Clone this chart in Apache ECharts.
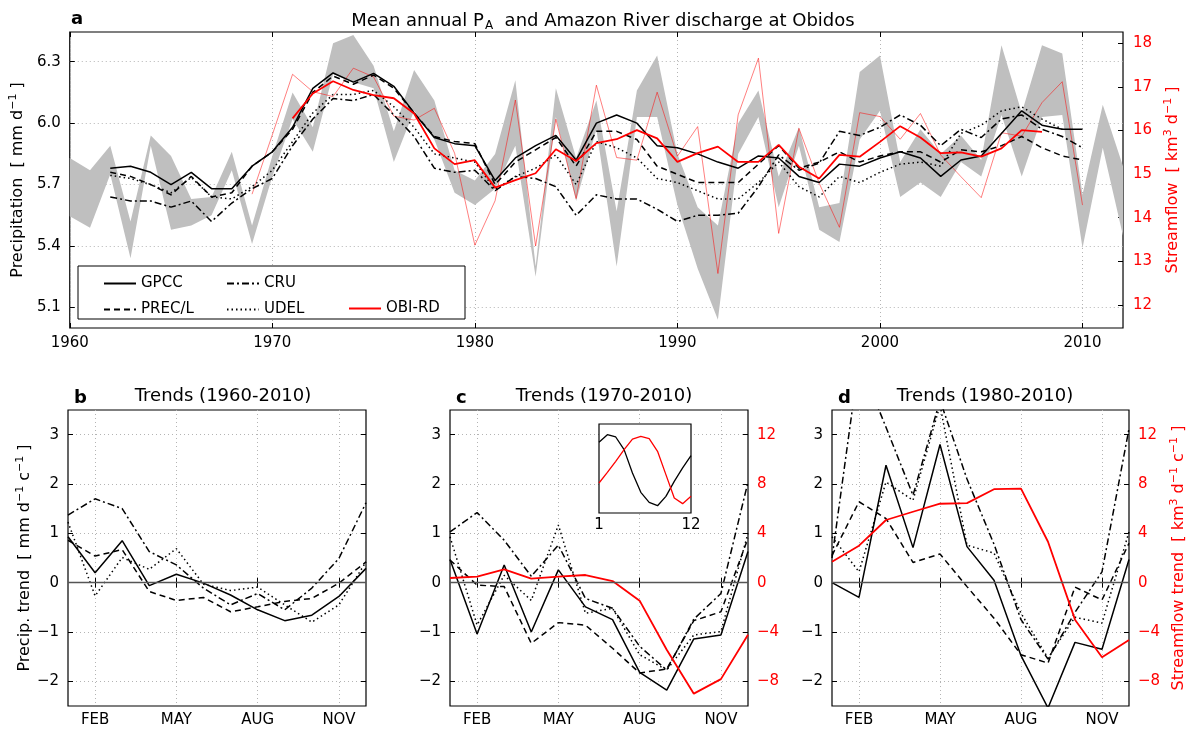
<!DOCTYPE html>
<html>
<head>
<meta charset="utf-8">
<script src="https://cdn.jsdelivr.net/npm/echarts@6/dist/echarts.min.js"></script>
<style>
  html, body { margin: 0; padding: 0; background: #fff; }
  #chart { width: 1189px; height: 729px; }
</style>
</head>
<body>
<div id="chart"></div>
<script>
  // ---- panel a: annual values 1960-2012 (null = no data) ----
  const years = Array.from({length: 53}, (_, i) => 1960 + i)
  const yearTicks = [1960, 1970, 1980, 1990, 2000, 2010]
  const precipTicks = [5.1, 5.4, 5.7, 6.0, 6.3]
  const flowTicks = [12, 13, 14, 15, 16, 17, 18]

  const gpcc = [null, null, 5.78, 5.79, 5.76, 5.70, 5.76, 5.68, 5.68, 5.79, 5.86, 5.98, 6.17, 6.245, 6.20, 6.243, 6.18, 6.05, 5.93, 5.90,
    5.89, 5.72, 5.83, 5.89, 5.94, 5.82, 6.00, 6.04, 6.00, 5.89, 5.88, 5.85, 5.81, 5.78, 5.84, 5.83, 5.74, 5.71, 5.80, 5.79,
    5.83, 5.86, 5.83, 5.74, 5.82, 5.84, 5.95, 6.06, 5.99, 5.97, 5.97, null, null]
  const precl = [null, null, 5.76, 5.74, 5.70, 5.65, 5.74, 5.64, 5.66, 5.79, 5.86, 5.97, 6.15, 6.23, 6.19, 6.235, 6.17, 6.05, 5.935, 5.91,
    5.90, 5.70, 5.81, 5.87, 5.93, 5.79, 5.96, 5.96, 5.92, 5.79, 5.75, 5.71, 5.71, 5.71, 5.80, 5.89, 5.78, 5.81, 5.86, 5.81,
    5.84, 5.86, 5.86, 5.81, 5.87, 5.86, 5.89, 5.935, 5.88, 5.84, 5.82, null, null]
  const cru = [null, null, 5.64, 5.62, 5.62, 5.59, 5.62, 5.52, 5.61, 5.68, 5.73, 5.89, 6.02, 6.12, 6.11, 6.14, 6.04, 5.935, 5.78, 5.76,
    5.77, 5.67, 5.74, 5.73, 5.69, 5.55, 5.65, 5.63, 5.63, 5.58, 5.52, 5.55, 5.55, 5.56, 5.69, 5.845, 5.77, 5.805, 5.96, 5.94,
    5.98, 6.04, 5.99, 5.89, 5.97, 5.93, 6.02, 6.04, 5.97, 5.935, 5.88, null, null]
  const udel = [null, null, 5.745, 5.73, 5.70, 5.66, 5.735, 5.64, 5.63, 5.69, 5.77, 5.91, 6.05, 6.14, 6.14, 6.16, 6.08, 5.98, 5.85, 5.83,
    5.81, 5.675, 5.74, 5.78, 5.845, 5.70, 5.91, 5.88, 5.83, 5.73, 5.71, 5.67, 5.63, 5.63, 5.71, 5.81, 5.69, 5.64, 5.74, 5.71,
    5.76, 5.80, 5.81, 5.79, 5.95, 5.99, 6.06, 6.08, 6.02, 5.97, null, null, null]
  // min / max of the annual precipitation products (grey band)
  const bandLow = [5.545, 5.49, 5.75, 5.34, 5.89, 5.48, 5.50, 5.55, 5.77, 5.41, 5.74, 6.02, 5.86, 6.24, 6.20, 6.17, 5.81, 6.06, 5.92, 5.66,
    5.60, 5.68, 5.89, 5.25, 6.03, 5.62, 5.97, 5.30, 6.03, 6.03, 5.60, 5.29, 5.04, 5.85, 6.03, 5.59, 5.89, 5.48, 5.42, 5.92,
    6.06, 5.64, 5.71, 5.64, 5.81, 5.74, 6.04, 5.74, 6.03, 6.04, 5.39, 5.88, 5.45]
  const bandHigh = [5.83, 5.77, 5.89, 5.52, 5.94, 5.84, 5.63, 5.64, 5.86, 5.50, 5.84, 6.15, 5.98, 6.39, 6.43, 6.28, 5.96, 6.26, 6.11, 5.77,
    5.72, 5.85, 6.21, 5.30, 6.17, 5.83, 6.11, 5.57, 6.16, 6.33, 5.85, 5.59, 5.50, 6.00, 6.16, 5.74, 5.98, 5.59, 5.61, 6.25,
    6.33, 5.81, 5.97, 5.85, 5.94, 5.82, 6.38, 6.05, 6.38, 6.34, 5.65, 6.09, 5.79]
  // streamflow at Obidos, km3/d
  const obiSmooth = [null, null, null, null, null, null, null, null, null, null, null, 16.28, 16.85, 17.13, 16.93, 16.81, 16.74, 16.39, 15.59, 15.23,
    15.32, 14.69, 14.86, 15.02, 15.57, 15.30, 15.71, 15.80, 16.01, 15.82, 15.28, 15.48, 15.63, 15.28, 15.28, 15.67, 15.17, 14.90, 15.44, 15.40,
    15.74, 16.10, 15.84, 15.48, 15.50, 15.40, 15.59, 16.01, 15.97, null, null, null, null]
  const obiAnnual = [null, null, null, null, null, null, null, null, null, 14.54, 15.90, 17.29, 16.89, 16.78, 17.43, 17.23, 16.33, 16.24, 16.51, 15.48,
    13.37, 14.39, 16.70, 13.35, 16.26, 14.44, 17.04, 15.38, 15.32, 16.88, 15.41, 16.09, 12.72, 16.36, 17.66, 13.64, 16.05, 14.79, 13.78, 16.41,
    16.32, 15.80, 16.39, 15.44, 14.94, 14.46, 15.95, 15.87, 16.64, 17.12, 14.29, null, null]

  // ---- panels b, c, d: monthly trends ----
  const months = ['JAN', 'FEB', 'MAR', 'APR', 'MAY', 'JUN', 'JUL', 'AUG', 'SEP', 'OCT', 'NOV', 'DEC']
  const trendTicks = [-2, -1, 0, 1, 2, 3]
  const flowTrendTicks = [-8, -4, 0, 4, 8, 12]

  const bGpcc = [0.93, 0.20, 0.85, -0.06, 0.17, -0.01, -0.25, -0.55, -0.77, -0.66, -0.28, 0.29]
  const bPrecl = [0.86, 0.54, 0.67, -0.18, -0.36, -0.30, -0.59, -0.49, -0.38, -0.32, -0.01, 0.42]
  const bCru = [1.37, 1.70, 1.50, 0.63, 0.36, -0.11, -0.45, -0.22, -0.55, -0.11, 0.49, 1.62]
  const bUdel = [1.23, -0.27, 0.51, 0.27, 0.69, -0.03, -0.16, -0.09, -0.45, -0.80, -0.45, 0.42]

  const cGpcc = [0.47, -1.04, 0.36, -1.00, 0.26, -0.49, -0.75, -1.82, -2.18, -1.14, -1.06, 0.63]
  const cPrecl = [0.46, -0.05, -0.08, -1.23, -0.81, -0.86, -1.33, -1.83, -1.75, -0.77, -0.59, 0.90]
  const cCru = [1.03, 1.42, 0.86, 0.13, 0.76, -0.32, -0.52, -1.29, -1.77, -0.74, -0.22, 2.04]
  const cUdel = [0.93, -0.86, 0.15, -0.36, 1.17, -0.62, -0.52, -1.46, -1.77, -1.06, -0.99, 1.00]
  const cObi = [0.38, 0.49, 1.08, 0.32, 0.49, 0.62, 0.13, -1.46, -5.44, -9.00, -7.82, -4.23]

  const dGpcc = [0.00, -0.30, 2.38, 0.71, 2.80, 0.73, 0.05, -1.48, -2.54, -1.21, -1.35, 0.47]
  const dPrecl = [0.55, 1.64, 1.30, 0.41, 0.58, -0.08, -0.72, -1.46, -1.63, -0.09, -0.35, 0.80]
  const dCru = [0.50, 4.50, 3.15, 1.77, 3.70, 2.10, 0.78, -0.75, -1.55, -0.60, 0.22, 3.12]
  const dUdel = [0.93, 0.22, 2.04, 1.67, 3.60, 0.76, 0.60, -0.62, -1.53, -0.70, -0.82, 1.03]
  const dObi = [1.70, 3.00, 5.08, 5.75, 6.40, 6.45, 7.58, 7.63, 3.32, -3.00, -6.04, -4.64]

  // inset: seasonal cycles (arbitrary units)
  const insetMonths = [1, 2, 3, 4, 5, 6, 7, 8, 9, 10, 11, 12]
  const insetPrecip = [7.94, 8.80, 8.54, 7.12, 4.49, 2.32, 1.20, 0.82, 1.87, 3.56, 5.06, 6.44]
  const insetFlow = [3.37, 4.57, 5.81, 7.12, 8.31, 8.61, 8.35, 6.93, 4.31, 1.69, 1.05, 1.87]

  const FONT = 'DejaVu Sans'
  const RED = '#ff0000'
  const minus = v => String(v).replace('-', '\u2212')

  const tick = {show: true, inside: true, length: 5, lineStyle: {color: '#000', width: 1}}
  const dots = {show: true, lineStyle: {color: '#b4b4b4', width: 1, type: [1, 3]}}
  const lbl = {color: '#000', fontSize: 15, fontFamily: FONT}

  const SOLID = {color: '#000', width: 1.5, type: 'solid'}
  const DASH = {color: '#000', width: 1.5, type: [6, 4]}
  const DASHDOT = {color: '#000', width: 1.5, type: [7, 3, 2, 3]}
  const DOT = {color: '#000', width: 1.5, type: [1.5, 3]}
  const THICKRED = {color: RED, width: 1.8, type: 'solid'}

  // axis names with real superscripts
  function nameStyle(color) {
    return {
      color: color, fontSize: 16, fontFamily: FONT,
      rich: {
        n: {color: color, fontSize: 16, fontFamily: FONT, lineHeight: 20},
        s: {color: color, fontSize: 11, fontFamily: FONT, lineHeight: 11, verticalAlign: 'top'}
      }
    }
  }

  const yearly = arr => years.map((y, i) => [y, arr[i]])

  function line(name, data, xi, yi, style, extra) {
    return Object.assign({
      name: name, type: 'line', xAxisIndex: xi, yAxisIndex: yi, data: data,
      symbol: 'none', showSymbol: false, lineStyle: style,
      itemStyle: {color: style.color, opacity: 0}, z: 3
    }, extra || {})
  }

  const zeroLine = {
    silent: true, symbol: 'none', label: {show: false}, animation: false,
    lineStyle: {color: '#555', width: 1.3, type: 'solid'}, data: [{yAxis: 0}]
  }

  function monthAxis(gi, pos) {
    const bottom = pos === 'bottom'
    const every3 = i => i % 3 === 1
    return {
      type: 'category', gridIndex: gi, position: pos, data: months, boundaryGap: false,
      axisLine: {show: false},
      axisTick: Object.assign({}, tick, {interval: every3}),
      axisLabel: Object.assign({}, lbl, {show: bottom, interval: every3, margin: 7}),
      splitLine: bottom ? Object.assign({}, dots, {interval: every3}) : {show: false}
    }
  }

  function trendAxis(gi, pos, showLabel) {
    return {
      type: 'value', gridIndex: gi, position: pos, min: -2.5, max: 3.5,
      axisLine: {show: false},
      axisTick: Object.assign({}, tick, {customValues: trendTicks}),
      axisLabel: Object.assign({}, lbl, {show: showLabel, customValues: trendTicks, formatter: minus, margin: 9}),
      splitLine: pos === 'left' ? dots : {show: false}
    }
  }

  function flowTrendAxis(gi, withName) {
    const ax = {
      type: 'value', gridIndex: gi, position: 'right', min: -10, max: 14,
      axisLine: {show: false},
      axisTick: Object.assign({}, tick, {customValues: flowTrendTicks}),
      axisLabel: Object.assign({}, lbl, {color: RED, customValues: flowTrendTicks, formatter: minus, margin: 9}),
      splitLine: {show: false}
    }
    if (withName) {
      Object.assign(ax, {
        name: '{n|Streamflow trend  [ km}{s|3}{n| d}{s|\u22121}{n| c}{s|\u22121}{n| ]}',
        nameLocation: 'middle', nameRotate: 90, nameGap: 40, nameTextStyle: nameStyle(RED)
      })
    }
    return ax
  }

  const legendText = Object.assign({}, lbl)

  const chart = echarts.init(document.getElementById('chart'))

  const option = {
    animation: false,
    backgroundColor: '#fff',
    textStyle: {fontFamily: FONT},
    title: [
      {text: 'a', left: 66, top: 5, textStyle: {fontSize: 18, fontWeight: 'bold', color: '#000', fontFamily: FONT}},
      {
        text: '{t|Mean annual P}{s|A}{t|  and Amazon River discharge at Obidos}', left: 598, top: 5, textAlign: 'center',
        textStyle: {
          fontWeight: 'normal',
          rich: {
            t: {fontSize: 18, fontWeight: 'normal', color: '#000', fontFamily: FONT, lineHeight: 22},
            s: {fontSize: 12, fontWeight: 'normal', color: '#000', fontFamily: FONT, lineHeight: 12, verticalAlign: 'bottom', padding: [0, 0, 0, 1]}
          }
        }
      },
      {text: 'b', left: 69, top: 384, textStyle: {fontSize: 18, fontWeight: 'bold', color: '#000', fontFamily: FONT}},
      {text: 'Trends (1960-2010)', left: 218, top: 382, textAlign: 'center', textStyle: {fontSize: 18, fontWeight: 'normal', color: '#000', fontFamily: FONT}},
      {text: 'c', left: 451, top: 384, textStyle: {fontSize: 18, fontWeight: 'bold', color: '#000', fontFamily: FONT}},
      {text: 'Trends (1970-2010)', left: 599, top: 382, textAlign: 'center', textStyle: {fontSize: 18, fontWeight: 'normal', color: '#000', fontFamily: FONT}},
      {text: 'd', left: 833, top: 384, textStyle: {fontSize: 18, fontWeight: 'bold', color: '#000', fontFamily: FONT}},
      {text: 'Trends (1980-2010)', left: 980, top: 382, textAlign: 'center', textStyle: {fontSize: 18, fontWeight: 'normal', color: '#000', fontFamily: FONT}}
    ],
    legend: [
      {data: ['GPCC', 'PREC/L'], orient: 'vertical', left: 98, top: 271, itemWidth: 32, itemHeight: 14, itemGap: 11,
        selectedMode: false, z: 12, itemStyle: {opacity: 0}, textStyle: legendText},
      {data: ['CRU', 'UDEL'], orient: 'vertical', left: 221, top: 271, itemWidth: 32, itemHeight: 14, itemGap: 11,
        selectedMode: false, z: 12, itemStyle: {opacity: 0}, textStyle: legendText},
      {data: ['OBI-RD'], orient: 'vertical', left: 343, top: 296, itemWidth: 32, itemHeight: 14,
        selectedMode: false, z: 12, itemStyle: {opacity: 0}, textStyle: legendText}
    ],
    graphic: [
      {type: 'rect', shape: {x: 78, y: 266, width: 387, height: 53}, style: {fill: '#fff', stroke: '#000', lineWidth: 1}, z: 10},
      {type: 'rect', shape: {x: 599, y: 424, width: 92, height: 89}, style: {fill: '#fff', stroke: '#000', lineWidth: 1.2}, z: 1}
    ],
    grid: [
      {left: 68, top: 32, width: 1060, height: 296, show: true, borderColor: '#000', borderWidth: 1.2},
      {left: 68, top: 410, width: 298, height: 296, show: true, borderColor: '#000', borderWidth: 1.2},
      {left: 450, top: 410, width: 298, height: 296, show: true, borderColor: '#000', borderWidth: 1.2},
      {left: 832, top: 410, width: 297, height: 296, show: true, borderColor: '#000', borderWidth: 1.2},
      {left: 599, top: 424, width: 92, height: 89, show: false}
    ],
    xAxis: [
      {
        type: 'value', gridIndex: 0, min: 1960, max: 2012, axisLine: {show: false},
        axisTick: Object.assign({}, tick, {customValues: yearTicks}),
        axisLabel: Object.assign({}, lbl, {customValues: yearTicks, formatter: v => String(v), margin: 8}),
        splitLine: dots
      },
      {
        type: 'value', gridIndex: 0, position: 'top', min: 1960, max: 2012, axisLine: {show: false},
        axisTick: Object.assign({}, tick, {customValues: yearTicks}), axisLabel: {show: false}, splitLine: {show: false}
      },
      monthAxis(1, 'bottom'), monthAxis(1, 'top'),
      monthAxis(2, 'bottom'), monthAxis(2, 'top'),
      monthAxis(3, 'bottom'), monthAxis(3, 'top'),
      {
        type: 'value', gridIndex: 4, min: 1, max: 12, axisLine: {show: false}, axisTick: {show: false},
        axisLabel: Object.assign({}, lbl, {customValues: [1, 12], margin: 5}), splitLine: {show: false}
      }
    ],
    yAxis: [
      {
        type: 'value', gridIndex: 0, position: 'left', min: 5.0, max: 6.445, axisLine: {show: false},
        axisTick: Object.assign({}, tick, {customValues: precipTicks}),
        axisLabel: Object.assign({}, lbl, {customValues: precipTicks, formatter: v => v.toFixed(1), margin: 9}),
        splitLine: dots,
        name: '{n|Precipitation  [ mm d}{s|\u22121}{n| ]}', nameLocation: 'middle', nameRotate: 90, nameGap: 34,
        nameTextStyle: nameStyle('#000')
      },
      {
        type: 'value', gridIndex: 0, position: 'right', min: 11.47, max: 18.26, axisLine: {show: false},
        axisTick: Object.assign({}, tick, {customValues: flowTicks}),
        axisLabel: Object.assign({}, lbl, {color: RED, customValues: flowTicks, margin: 10}),
        splitLine: {show: false},
        name: '{n|Streamflow  [ km}{s|3}{n| d}{s|\u22121}{n| ]}', nameLocation: 'middle', nameRotate: 90, nameGap: 34,
        nameTextStyle: nameStyle(RED)
      },
      Object.assign(trendAxis(1, 'left', true), {
        name: '{n|Precip. trend  [ mm d}{s|\u22121}{n| c}{s|\u22121}{n| ]}', nameLocation: 'middle', nameRotate: 90, nameGap: 32,
        nameTextStyle: nameStyle('#000')
      }),
      trendAxis(1, 'right', false),
      trendAxis(2, 'left', true),
      flowTrendAxis(2, false),
      trendAxis(3, 'left', true),
      flowTrendAxis(3, true),
      {type: 'value', gridIndex: 4, min: 0, max: 10, show: false}
    ],
    series: [
      // grey band between the lowest and highest precipitation product
      {
        type: 'custom', name: 'range', xAxisIndex: 0, yAxisIndex: 0, z: 1, silent: true,
        data: years.map((y, i) => [y, bandLow[i], bandHigh[i]]),
        encode: {x: 0, y: [1, 2]},
        renderItem: (params, api) => {
          if (params.dataIndex !== 0) return
          const upper = years.map((y, i) => api.coord([y, bandHigh[i]]))
          const lower = years.map((y, i) => api.coord([y, bandLow[i]])).reverse()
          return {type: 'polygon', shape: {points: upper.concat(lower)}, style: {fill: '#bfbfbf', stroke: null}}
        }
      },
      line('OBI annual', yearly(obiAnnual), 0, 1, {color: RED, width: 1, opacity: 0.5}, {z: 2}),
      line('GPCC', yearly(gpcc), 0, 0, SOLID),
      line('PREC/L', yearly(precl), 0, 0, DASH),
      line('CRU', yearly(cru), 0, 0, DASHDOT),
      line('UDEL', yearly(udel), 0, 0, DOT),
      line('OBI-RD', yearly(obiSmooth), 0, 1, THICKRED, {z: 4}),

      line('GPCC', bGpcc, 2, 2, SOLID, {markLine: zeroLine}),
      line('PREC/L', bPrecl, 2, 2, DASH),
      line('CRU', bCru, 2, 2, DASHDOT),
      line('UDEL', bUdel, 2, 2, DOT),

      line('GPCC', cGpcc, 4, 4, SOLID, {markLine: zeroLine}),
      line('PREC/L', cPrecl, 4, 4, DASH),
      line('CRU', cCru, 4, 4, DASHDOT),
      line('UDEL', cUdel, 4, 4, DOT),
      line('OBI-RD', cObi, 4, 5, THICKRED, {z: 4}),

      line('GPCC', dGpcc, 6, 6, SOLID, {markLine: zeroLine}),
      line('PREC/L', dPrecl, 6, 6, DASH),
      line('CRU', dCru, 6, 6, DASHDOT),
      line('UDEL', dUdel, 6, 6, DOT),
      line('OBI-RD', dObi, 6, 7, THICKRED, {z: 4}),

      line('inset P', insetMonths.map((m, i) => [m, insetPrecip[i]]), 8, 8, {color: '#000', width: 1.3}),
      line('inset Q', insetMonths.map((m, i) => [m, insetFlow[i]]), 8, 8, {color: RED, width: 1.3})
    ]
  }

  chart.setOption(option)
</script>
</body>
</html>
